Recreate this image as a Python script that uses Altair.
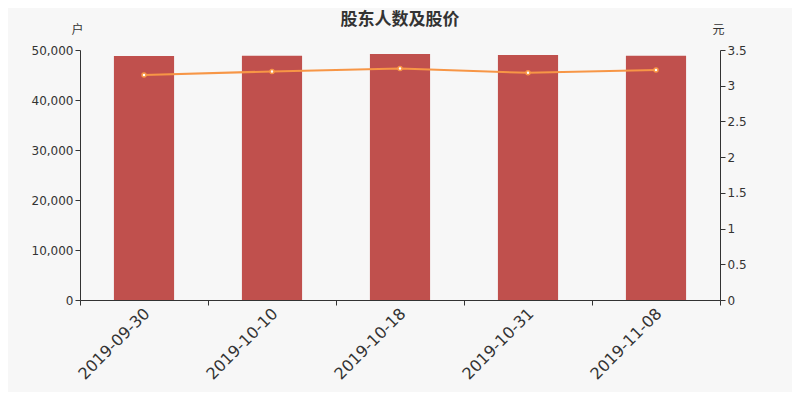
import altair as alt
import pandas as pd

dates = ["2019-09-30", "2019-10-10", "2019-10-18", "2019-10-31", "2019-11-08"]
holders = [48800, 48870, 49200, 49000, 48830]
prices = [3.15, 3.20, 3.24, 3.18, 3.22]

df = pd.DataFrame({"date": dates, "holders": holders, "price": prices})

FONT = "Noto Sans CJK SC"
TXT = "#333333"

x = alt.X("date:N", sort=dates, title=None,
          scale=alt.Scale(paddingInner=0, paddingOuter=0),
          axis=alt.Axis(labelAngle=-45, labelFontSize=16, labelColor=TXT,
                        labelFont="DejaVu Sans", tickBand="extent",
                        domainColor=TXT, tickColor=TXT, tickSize=5,
                        labelPadding=0, labelOffset=-3))

bars = alt.Chart(df).mark_bar(color="#c0504d", width=alt.RelativeBandSize(0.47)).encode(
    x=x,
    y=alt.Y("holders:Q", scale=alt.Scale(domain=[0, 50000], nice=False),
            axis=alt.Axis(values=[0, 10000, 20000, 30000, 40000, 50000],
                          labelExpr="format(datum.value, ',')",
                          title="户", titleAngle=0, titleX=-3, titleY=-21,
                          titleAlign="center", titleBaseline="middle",
                          titleFont=FONT, titleFontSize=12, titleFontWeight="normal",
                          titleColor=TXT, labelColor=TXT, labelFontSize=12,
                          labelFont="DejaVu Sans", grid=False,
                          domainColor=TXT, tickColor=TXT, tickSize=5)),
)

line = alt.Chart(df).mark_line(
    color="#f79646", strokeWidth=2,
    point=alt.OverlayMarkDef(filled=True, fill="white", stroke="#f79646",
                             strokeWidth=1.5, size=16),
).encode(
    x=x,
    y=alt.Y("price:Q", scale=alt.Scale(domain=[0, 3.5], nice=False),
            axis=alt.Axis(orient="right", values=[0, 0.5, 1, 1.5, 2, 2.5, 3, 3.5],
                          labelExpr="format(datum.value, '~g')",
                          title="元", titleAngle=0, titleX=-2, titleY=-21,
                          titleAlign="center", titleBaseline="middle",
                          titleFont=FONT, titleFontSize=12, titleFontWeight="normal",
                          titleColor=TXT, labelColor=TXT, labelFontSize=12,
                          labelFont="DejaVu Sans", grid=False,
                          domainColor=TXT, tickColor=TXT, tickSize=5)),
)

chart = alt.layer(bars, line).resolve_scale(y="independent").properties(
    width=640, height=250,
    autosize=alt.AutoSizeParams(type="none"),
    padding={"left": 72, "top": 42, "right": 72, "bottom": 92},
    background="#f7f7f7",
    title=alt.TitleParams("股东人数及股价", font=FONT, fontSize=17, fontWeight="bold",
                          color=TXT, anchor="middle", offset=-6),
).configure_view(stroke=None)

chart.save("out.html", embed_options={"renderer": "svg", "actions": False})
